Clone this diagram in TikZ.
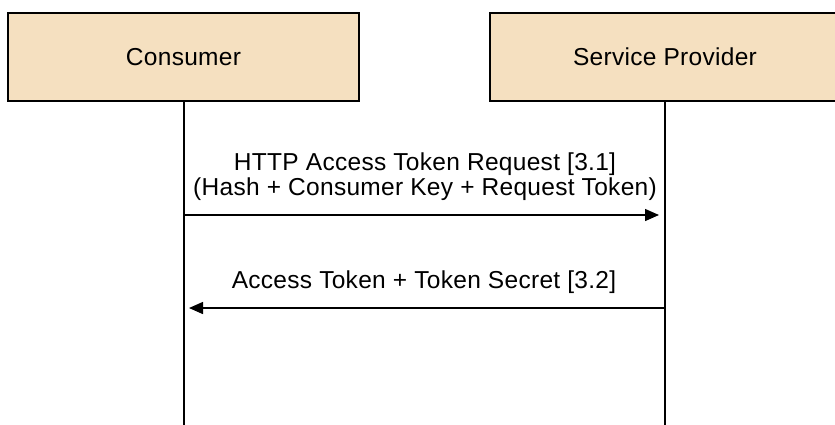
\documentclass[tikz,border=0pt]{standalone}
\usepackage{fontspec}
\setmainfont{Liberation Sans}[LetterSpace=1.2]
\usetikzlibrary{arrows.meta}
\definecolor{boxfill}{RGB}{245,224,192}
\tikzset{
  actor/.style={draw=black, line width=1.4pt, fill=boxfill, minimum height=88pt, inner sep=0pt, text depth=0pt, font=\fontsize{24.5}{28}\selectfont},
  lifeline/.style={line width=1.4pt},
  msg/.style={line width=1.4pt, -{Triangle[length=14pt,width=12pt]}},
  msglabel/.style={anchor=base, inner sep=0pt, font=\fontsize{24.5}{27}\selectfont}
}
\begin{document}
\begin{tikzpicture}[x=1pt,y=-1pt]
  \useasboundingbox (0,0) rectangle (835,424);
  \clip (0,0) rectangle (835,424);
  % participants
  \node[actor, minimum width=351pt] (consumer) at (183.5,57) {Consumer};
  \node[actor, minimum width=350pt] (provider) at (665,57) {Service Provider};
  % lifelines
  \coordinate (cend) at (184,426);
  \coordinate (pend) at (665,426);
  \draw[lifeline] (consumer.south -| cend) -- (cend);
  \draw[lifeline] (provider.south -| pend) -- (pend);
  % messages
  \coordinate (m1a) at (184,215);
  \coordinate (m1b) at (659,215);
  \coordinate (m2a) at (665,308);
  \coordinate (m2b) at (189,308);
  \draw[msg] (m1a) -- (m1b);
  \draw[msg] (m2a) -- (m2b);
  \node[msglabel] (l1a) at (425,170) {HTTP Access Token Request [3.1]};
  \node[msglabel] (l1b) at (425,195) {(Hash + Consumer Key + Request Token)};
  \node[msglabel] (l2) at (424,288) {Access Token + Token Secret [3.2]};
\end{tikzpicture}
\end{document}
